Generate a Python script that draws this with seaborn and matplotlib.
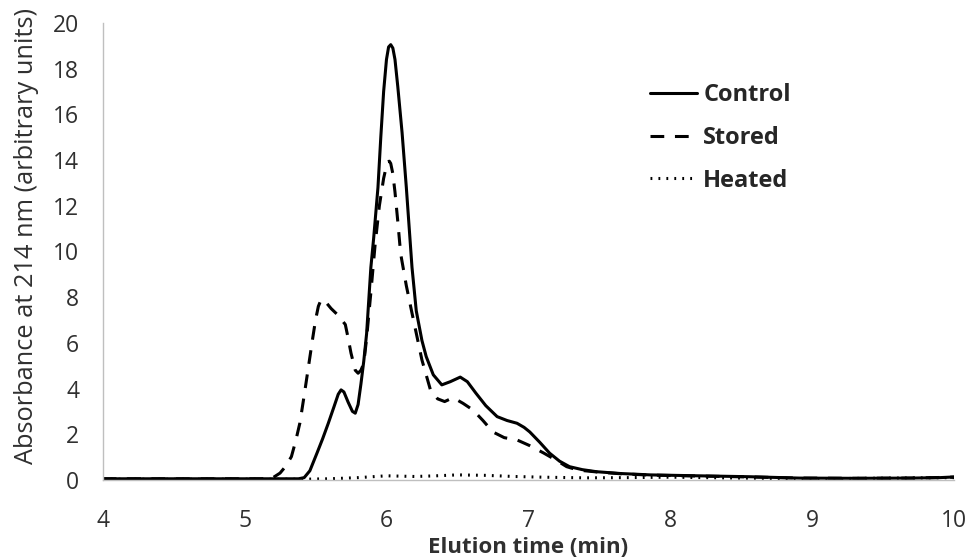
import pandas as pd
import matplotlib as mpl
mpl.use('agg')
import matplotlib.pyplot as plt
from matplotlib.lines import Line2D
import seaborn as sns

# elution profiles
control_x = [4.0, 5.0, 5.38, 5.42, 5.46, 5.51, 5.55, 5.59, 5.63, 5.66, 5.68, 5.70, 5.73, 5.76, 5.78,
             5.80, 5.82, 5.84, 5.86, 5.89, 5.91, 5.94, 5.96, 5.98, 6.00, 6.015, 6.03, 6.045, 6.06,
             6.08, 6.11, 6.14, 6.18, 6.21, 6.25, 6.28, 6.33, 6.39, 6.45, 6.52, 6.57, 6.63, 6.70,
             6.78, 6.85, 6.92, 6.97, 7.01, 7.08, 7.15, 7.22, 7.29, 7.38, 7.48, 7.65, 7.86, 8.2,
             8.56, 8.91, 9.3, 9.7, 9.9, 10.0]
control_y = [0.05, 0.05, 0.05, 0.1, 0.4, 1.17, 1.8, 2.48, 3.2, 3.75, 3.94, 3.85, 3.4, 3.0, 2.92,
             3.3, 4.2, 5.2, 6.4, 9.3, 10.6, 12.8, 15.0, 17.0, 18.4, 18.95, 19.05, 18.9, 18.4,
             17.2, 15.2, 12.8, 9.3, 7.4, 6.1, 5.4, 4.6, 4.16, 4.3, 4.5, 4.3, 3.8, 3.25,
             2.77, 2.6, 2.48, 2.3, 2.1, 1.65, 1.17, 0.82, 0.58, 0.45, 0.36, 0.28, 0.22, 0.18,
             0.14, 0.08, 0.07, 0.08, 0.1, 0.13]

stored_x = [4.0, 5.0, 5.15, 5.2, 5.25, 5.29, 5.33, 5.36, 5.39, 5.42, 5.45, 5.48, 5.50, 5.52, 5.54,
            5.57, 5.61, 5.66, 5.71, 5.73, 5.75, 5.78, 5.80, 5.82, 5.84, 5.86, 5.89, 5.92, 5.95,
            5.98, 6.00, 6.01, 6.02, 6.03, 6.045, 6.06, 6.08, 6.10, 6.14, 6.18, 6.25, 6.31, 6.36,
            6.41, 6.47, 6.54, 6.61, 6.68, 6.75, 6.83, 6.92, 7.01, 7.11, 7.2, 7.27, 7.35, 7.48,
            7.65, 7.86, 8.2, 8.56, 8.91, 9.3, 9.7, 10.0]
stored_y = [0.05, 0.05, 0.05, 0.1, 0.3, 0.6, 1.02, 1.7, 2.5, 3.7, 4.95, 6.2, 7.0, 7.6, 7.9,
            7.8, 7.5, 7.2, 6.8, 6.2, 5.55, 4.8, 4.67, 4.8, 5.1, 6.2, 8.2, 10.3, 12.0,
            13.2, 13.75, 13.92, 13.95, 13.85, 13.4, 12.6, 11.3, 9.9, 8.5, 7.3, 5.25, 3.94, 3.55,
            3.43, 3.6, 3.35, 3.06, 2.6, 2.1, 1.85, 1.75, 1.5, 1.17, 0.85, 0.58, 0.43, 0.35,
            0.27, 0.21, 0.17, 0.13, 0.08, 0.07, 0.08, 0.12]

heated_x = [4.0, 5.4, 5.6, 5.8, 6.0, 6.2, 6.35, 6.5, 6.7, 6.9, 7.1, 7.4, 7.7, 8.0, 8.5, 9.0, 10.0]
heated_y = [0.03, 0.03, 0.05, 0.1, 0.18, 0.15, 0.18, 0.22, 0.2, 0.15, 0.12, 0.09, 0.1, 0.12, 0.08, 0.05, 0.1]

samples = ['Control', 'Stored', 'Heated']

df = pd.concat([
    pd.DataFrame({'time': control_x, 'abs': control_y, 'sample': 'Control'}),
    pd.DataFrame({'time': stored_x, 'abs': stored_y, 'sample': 'Stored'}),
    pd.DataFrame({'time': heated_x, 'abs': heated_y, 'sample': 'Heated'}),
])

sns.set_style('white')
plt.rcParams['font.family'] = ['Open Sans', 'DejaVu Sans']

dash_map = {'Control': '', 'Stored': (4.5, 3.5), 'Heated': (0.6, 2.0)}
txt = '#303030'

fig = plt.figure(figsize=(9.69, 5.60), dpi=100)
ax = fig.add_axes([0.106, 0.143, 0.8785, 0.816])
sns.lineplot(data=df, x='time', y='abs', style='sample', style_order=samples,
             dashes=dash_map, color='black', linewidth=2.2, sort=False,
             legend=False, ax=ax)

ax.set_xlim(4, 10)
ax.set_ylim(0, 20)
ax.set_xticks(range(4, 11))
ax.set_yticks(range(0, 21, 2))
for s in ['top', 'right']:
    ax.spines[s].set_visible(False)
for s in ['left', 'bottom']:
    ax.spines[s].set_color('#bfbfbf')
    ax.spines[s].set_linewidth(1)
ax.tick_params(axis='both', which='major', length=6, width=1, color='#bfbfbf',
               labelsize=16.5, labelcolor=txt, direction='out')
ax.tick_params(axis='x', pad=15)
ax.tick_params(axis='y', pad=11)

ax.set_xlabel('Elution time (min)', fontsize=16, fontweight='bold', color=txt, labelpad=3)
ax.set_ylabel('Absorbance at 214 nm (arbitrary units)', fontsize=18.3, color=txt)
ax.yaxis.set_label_coords(-0.075, 0.534)

handles = [Line2D([], [], color='black', lw=2.2) for s in samples]
handles[1].set_dashes(dash_map['Stored'])
handles[2].set_dashes(dash_map['Heated'])
ax.legend(handles, samples, loc='upper left', bbox_to_anchor=(0.643, 0.868), frameon=False,
          borderpad=0, borderaxespad=0,
          handlelength=2.0, handletextpad=0.25, labelspacing=0.79,
          prop={'size': 17, 'weight': 'bold'})

fig.savefig('out.png', dpi=100)
